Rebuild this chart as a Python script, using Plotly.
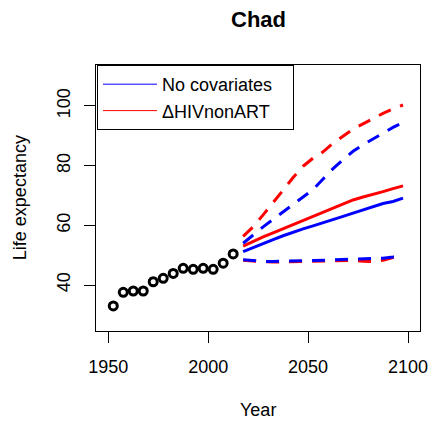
import plotly.graph_objects as go

# ---- data ----
hist_years = [1952.5, 1957.5, 1962.5, 1967.5, 1972.5, 1977.5, 1982.5, 1987.5,
              1992.5, 1997.5, 2002.5, 2007.5, 2012.5]
hist_e0 = [33.0, 37.55, 38.0, 38.0, 41.1, 42.25, 43.9, 45.6, 45.25, 45.6, 45.25, 47.3, 50.4]

proj_years = [2017.5, 2022.5, 2027.5, 2032.5, 2037.5, 2042.5, 2047.5, 2052.5, 2057.5,
              2062.5, 2067.5, 2072.5, 2077.5, 2082.5, 2087.5, 2092.5, 2097.5]

nocov_median = [51.2, 52.6, 53.9, 55.2, 56.5, 57.7, 58.8, 59.8, 60.8, 62.0, 63.0, 64.1,
                65.2, 66.3, 67.3, 68.0, 69.1]
nocov_upper = [54.0, 56.8, 59.5, 62.0, 64.5, 67.0, 69.2, 72.0, 75.5, 79.0, 82.0, 84.8,
               87.0, 89.0, 91.0, 92.8, 94.4]
nocov_lower = [48.5, 48.1, 47.9, 47.9, 47.9, 48.0, 48.1, 48.2, 48.3, 48.4, 48.5, 48.6,
               48.7, 48.8, 49.0, 49.4, 49.9]

hiv_median = [53.0, 54.6, 56.1, 57.5, 58.9, 60.3, 61.7, 63.0, 64.4, 65.8, 67.2, 68.5,
              69.5, 70.3, 71.3, 72.3, 73.2]
hiv_upper = [56.3, 59.5, 63.5, 67.5, 71.8, 76.0, 79.8, 82.5, 84.6, 87.5, 89.8, 92.2,
             94.0, 95.8, 97.5, 99.0, 100.3]
hiv_lower = [48.3, 48.0, 47.8, 47.7, 47.7, 47.8, 47.9, 48.0, 48.1, 48.2, 48.3, 48.2,
             48.0, 47.8, 48.3, 49.2, 49.8]

x_ticks = [1950, 2000, 2050, 2100]
y_ticks = [40, 60, 80, 100]

title = "Chad"
series_names = ["No covariates", "ΔHIVnonART"]
BLUE = "#0000FF"
RED = "#FF0000"
FONT = "Liberation Sans, Arial, Helvetica, sans-serif"
DASH = "13px,10px"

fig = go.Figure()

# red (HIV covariate) first, blue on top
fig.add_trace(go.Scatter(x=proj_years, y=hiv_upper, mode="lines",
                         line=dict(color=RED, width=3, dash=DASH), showlegend=False))
fig.add_trace(go.Scatter(x=proj_years, y=hiv_lower, mode="lines",
                         line=dict(color=RED, width=3, dash=DASH), showlegend=False))
fig.add_trace(go.Scatter(x=proj_years, y=hiv_median, mode="lines",
                         line=dict(color=RED, width=3), showlegend=False))
fig.add_trace(go.Scatter(x=proj_years, y=nocov_upper, mode="lines",
                         line=dict(color=BLUE, width=3, dash=DASH), showlegend=False))
fig.add_trace(go.Scatter(x=proj_years, y=nocov_lower, mode="lines",
                         line=dict(color=BLUE, width=3, dash=DASH), showlegend=False))
fig.add_trace(go.Scatter(x=proj_years, y=nocov_median, mode="lines",
                         line=dict(color=BLUE, width=3), showlegend=False))

fig.add_trace(go.Scatter(x=hist_years, y=hist_e0, mode="markers",
                         marker=dict(symbol="circle-open", size=8, color="black",
                                     line=dict(width=3, color="black")),
                         showlegend=False))

# legend entries (thin lines as in the reference); trailing no-break spaces widen the box
pad = "\u00a0\u00a0\u00a0"
fig.add_trace(go.Scatter(x=[None], y=[None], mode="lines", name=series_names[0] + pad,
                         line=dict(color=BLUE, width=1)))
fig.add_trace(go.Scatter(x=[None], y=[None], mode="lines", name=series_names[1],
                         line=dict(color=RED, width=1)))

axis_common = dict(showgrid=False, zeroline=False, showline=True, mirror=True,
                   linecolor="black", linewidth=1, ticks="outside", ticklen=11,
                   tickwidth=1, tickcolor="black",
                   tickfont=dict(family=FONT, size=18, color="black"))

fig.update_layout(
    width=439, height=422,
    margin=dict(l=96, r=11, t=65, b=91),
    paper_bgcolor="white", plot_bgcolor="white",
    font=dict(family=FONT, size=18, color="black"),
    xaxis=dict(range=[1943.86, 2106.0], tickvals=x_ticks, ticklabelstandoff=8,
               **axis_common),
    yaxis=dict(range=[24.6, 113.7], tickvals=y_ticks, tickangle=-90,
               ticklabelstandoff=7, **axis_common),
    legend=dict(x=0.003, y=1, xanchor="left", yanchor="top",
                bordercolor="black", borderwidth=1, bgcolor="white",
                font=dict(family=FONT, size=18, color="black"),
                itemwidth=54, tracegroupgap=0),
    showlegend=True,
    annotations=[
        dict(text="<b>" + title + "</b>", xref="paper", yref="paper", x=0.5,
             y=1 + 45 / 266, xanchor="center", yanchor="middle", showarrow=False,
             font=dict(family=FONT, size=22, color="black")),
        dict(text="Year", xref="paper", yref="paper", x=0.5, y=-79 / 266,
             xanchor="center", yanchor="middle", showarrow=False,
             font=dict(family=FONT, size=18, color="black")),
        dict(text="Life expectancy", xref="paper", yref="paper", x=-77.7 / 332, y=0.5,
             xanchor="center", yanchor="middle", showarrow=False, textangle=-90,
             font=dict(family=FONT, size=18, color="black")),
    ],
)

fig.write_html("out.html", config={"displayModeBar": False},
               post_script="document.body.style.margin='0';")
